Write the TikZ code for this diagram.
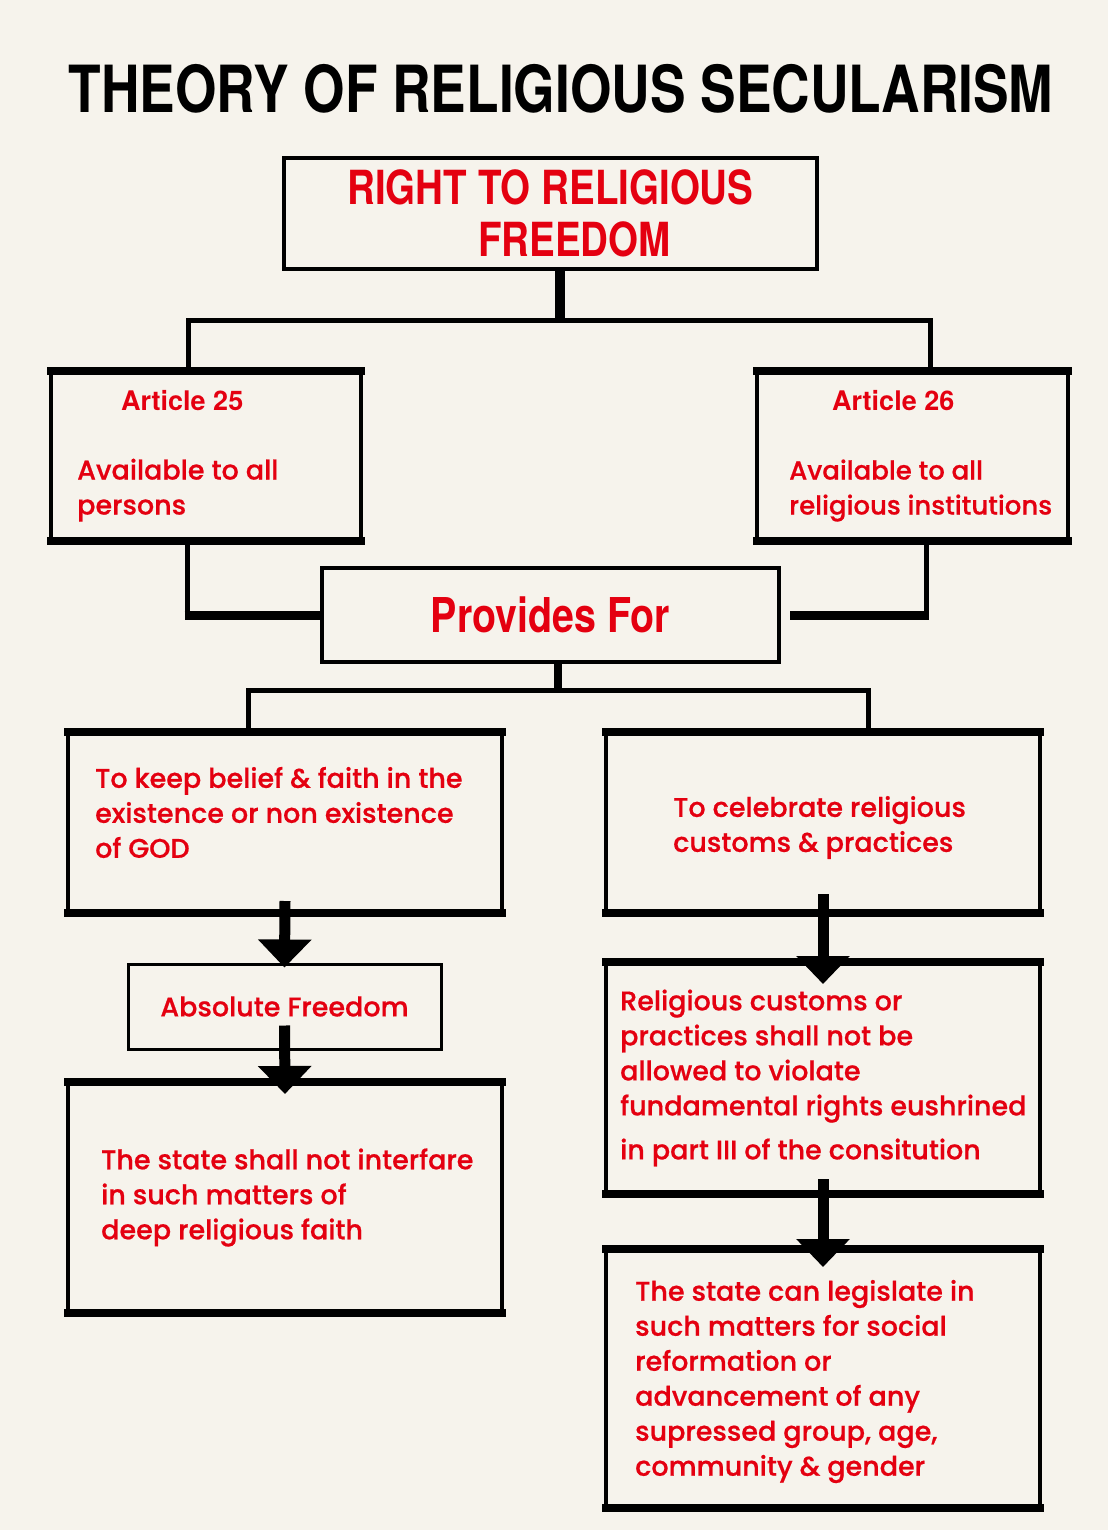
\documentclass[tikz,border=0pt]{standalone}
\usepackage{fontspec}
\setmainfont{Poppins}[UprightFont=* Medium, FakeBold=0.6]
\newfontfamily\condfont{TeX Gyre Heros}[FakeStretch=0.82]
\newfontfamily\artfont{TeX Gyre Heros}
\usepackage{tikz}
\usetikzlibrary{arrows.meta,positioning}
\definecolor{bgcream}{RGB}{246,243,236}
\definecolor{txtred}{RGB}{228,0,16}

\begin{document}
\begin{tikzpicture}[
    x=1pt, y=-1pt,
    box/.style={draw, line width=4pt, inner sep=0pt, text=txtred, align=center},
    boxtext/.style={inner sep=0pt, align=left, anchor=west, text=txtred, font=\fontsize{27}{35}\selectfont},
    link/.style={line width=5pt},
    stem/.style={line width=10pt},
    bar/.style={line width=9pt, shorten <=-2.5pt},
    rim/.style={line width=8pt, shorten <=-2pt, shorten >=-2pt},
    flow/.style={line width=11pt, -{Triangle[width=52pt,length=28pt]}}
]

% Background
\fill[bgcream] (0,0) rectangle (1108,1530);
\useasboundingbox (0,0) rectangle (1108,1530);

% Title
\node[font=\condfont\bfseries\fontsize{65}{70}\selectfont] (title) at (561,89) {THEORY OF RELIGIOUS SECULARISM};

% Boxes
\node[box, minimum width=533pt, minimum height=111pt, font=\condfont\bfseries\fontsize{47}{52}\selectfont] (rtrf) at (550.5,213.5) {RIGHT TO RELIGIOUS\\\hspace*{48pt}FREEDOM};
\node[box, minimum width=310pt, minimum height=166pt] (art25) at (206,456) {};
\node[box, minimum width=311pt, minimum height=166pt] (art26) at (912.5,456) {};
\node[box, minimum width=457pt, minimum height=94pt, font=\condfont\bfseries\fontsize{48}{52}\selectfont] (provides) at (550.5,615) {Provides For};
\node[box, minimum width=434pt, minimum height=177pt] (belief) at (285,822.5) {};
\node[box, minimum width=434pt, minimum height=177pt] (celebrate) at (823,822.5) {};
\node[box, line width=3pt, minimum width=313pt, minimum height=85pt, font=\fontsize{27}{35}\selectfont] (absfree) at (284.5,1006.5) {Absolute Freedom};
\node[box, minimum width=434pt, minimum height=227pt] (nointerfere) at (285,1197.5) {};
\node[box, minimum width=434pt, minimum height=228pt] (customs) at (823,1078) {};
\node[box, minimum width=434pt, minimum height=255pt] (legislate) at (823,1378.5) {};

% Heavy top and bottom edges
\foreach \b in {art25,art26,belief,celebrate,nointerfere,customs,legislate} {
  \draw[rim] (\b.north west) -- (\b.north east);
  \draw[rim] (\b.south west) -- (\b.south east);
}

% Box texts
\node[boxtext] (art25txt) at ([xshift=28pt]art25.west) {{\hspace*{44pt}\artfont\bfseries Article 25}\\[34pt]Available to all\\persons};
\node[boxtext, font=\fontsize{26}{35}\selectfont] (art26txt) at ([xshift=34pt]art26.west) {{\hspace*{43pt}\artfont\bfseries\fontsize{27}{35}\selectfont Article 26}\\[34pt]Available to all\\religious institutions};
\node[boxtext] (belieftxt) at ([xshift=29pt,yshift=10pt]belief.west) {To keep belief \& faith in the\\existence or non existence\\of GOD};
\node[boxtext] (celebratetxt) at ([xshift=69pt,yshift=-5pt]celebrate.west) {To celebrate religious\\customs \& practices};
\node[boxtext] (nointerferetxt) at ([xshift=35pt]nointerfere.west) {The state shall not interfare\\in such matters of\\deep religious faith};
\node[boxtext] (customstxt) at ([xshift=16pt]customs.west) {Religious customs or\\practices shall not be\\allowed to violate\\fundamental rights eushrined\\[9pt]in part III of the consitution};
\node[boxtext] (legislatetxt) at ([xshift=31pt,yshift=-3pt]legislate.west) {The state can legislate in\\such matters for social\\reformation or\\advancement of any\\supressed group, age,\\community \& gender};

% Branches from the top
\coordinate (bar1) at (560,320);
\coordinate (bar1l) at (188,320);
\coordinate (bar1r) at (930,320);
\draw[stem] (rtrf.south -| bar1) -- (bar1);
\draw[link] (art25.north -| bar1l) -- (bar1l) -- (bar1r) -- (art26.north -| bar1r);

% Articles join into Provides For
\coordinate (join25) at (187,615);
\coordinate (join26) at (926,615);
\draw[link] (art25.south -| join25) -- (join25);
\draw[bar] (join25) -- (provides.west);
\draw[link] (art26.south -| join26) -- (join26);
\draw[bar] (join26) -- ([xshift=9pt]provides.east);

% Branches from Provides For
\coordinate (bar2) at (558,690);
\coordinate (bar2l) at (248,690);
\coordinate (bar2r) at (868,690);
\draw[stem, line width=8pt] (provides.south -| bar2) -- (bar2);
\draw[link] (belief.north -| bar2l) -- (bar2l) -- (bar2r) -- (celebrate.north -| bar2r);

% Down arrows
\draw[flow] ([yshift=12pt]belief.south) -- ([yshift=-5pt]absfree.north);
\draw[flow] ([yshift=25pt]absfree.south) -- ([yshift=-12pt]nointerfere.north);
\draw[flow] ([yshift=19pt]celebrate.south) -- ([yshift=-22pt]customs.north);
\draw[flow] ([yshift=15pt]customs.south) -- ([yshift=-18pt]legislate.north);

\end{tikzpicture}
\end{document}
